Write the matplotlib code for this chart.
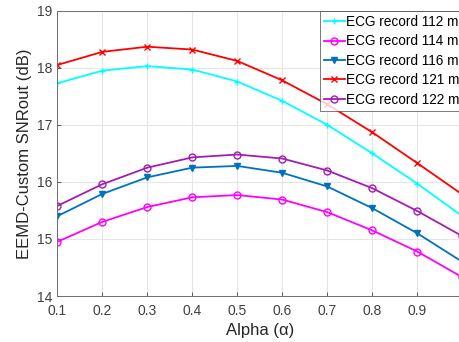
import numpy as np
import matplotlib
matplotlib.use("Agg")
import matplotlib.pyplot as plt

# %% Data
alpha = [0.1, 0.2, 0.3, 0.4, 0.5, 0.6, 0.7, 0.8, 0.9, 1.0]
rec112 = [17.73, 17.95, 18.03, 17.97, 17.76, 17.42, 17.00, 16.50, 15.97, 15.40]
rec114 = [14.95, 15.30, 15.56, 15.73, 15.77, 15.69, 15.47, 15.15, 14.78, 14.33]
rec116 = [15.40, 15.79, 16.08, 16.25, 16.28, 16.16, 15.92, 15.54, 15.10, 14.60]
rec121 = [18.05, 18.28, 18.37, 18.32, 18.12, 17.78, 17.36, 16.87, 16.33, 15.78]
rec122 = [15.58, 15.96, 16.25, 16.43, 16.48, 16.41, 16.20, 15.89, 15.49, 15.05]
labels = ["ECG record 112 m", "ECG record 114 m", "ECG record 116 m",
          "ECG record 121 m", "ECG record 122 m"]
xticks = [0.1, 0.2, 0.3, 0.4, 0.5, 0.6, 0.7, 0.8, 0.9]
yticks = [14, 15, 16, 17, 18, 19]

# %% Plot
plt.rcParams['font.family'] = ['Liberation Sans', 'DejaVu Sans']
fig = plt.figure(figsize=(4.59, 3.42), dpi=100)
# axes runs past the right edge, as in the cropped original
ax = fig.add_axes([0.125, 0.1345, 0.882, 0.834])

ax.plot(alpha, rec112, color='#00FFFF', marker='+', ms=5, lw=1.3, label=labels[0])
ax.plot(alpha, rec114, color='#FF00FF', marker='o', ms=5, mfc='none', lw=1.3, label=labels[1])
ax.plot(alpha, rec116, color='#0072BD', marker='v', ms=4.5, lw=1.3, label=labels[2])
ax.plot(alpha, rec121, color='#FF0000', marker='x', ms=4.5, lw=1.3, label=labels[3])
ax.plot(alpha, rec122, color='#A41DB2', marker='o', ms=5, mfc='none', lw=1.3, label=labels[4])

ax.set_xlim(0.1, 1.0)
ax.set_ylim(14, 19)
ax.set_xticks(xticks)
ax.set_yticks(yticks)
ax.tick_params(labelsize=10, colors='#404040', direction='in', length=3, width=0.6)
ax.tick_params(axis='x', pad=6)
ax.grid(True, color='#E6E6E6', lw=0.8)
ax.set_axisbelow(True)
for s in ax.spines.values():
    s.set_color('#6E6E6E')
    s.set_linewidth(0.7)
ax.set_xlabel("Alpha (\u03b1)", fontsize=12, color='#262626', labelpad=3)
ax.set_ylabel("EEMD-Custom SNRout (dB)", fontsize=12, color='#262626', labelpad=4)

leg = ax.legend(loc='upper left', bbox_to_anchor=(0.649, 1.0), fontsize=9.8,
                frameon=True, fancybox=False, edgecolor='#404040',
                handlelength=1.5, handletextpad=0.1, borderpad=0.3,
                labelspacing=0.4, borderaxespad=0)
leg.get_frame().set_linewidth(0.6)

fig.savefig("out.png", dpi=100)
